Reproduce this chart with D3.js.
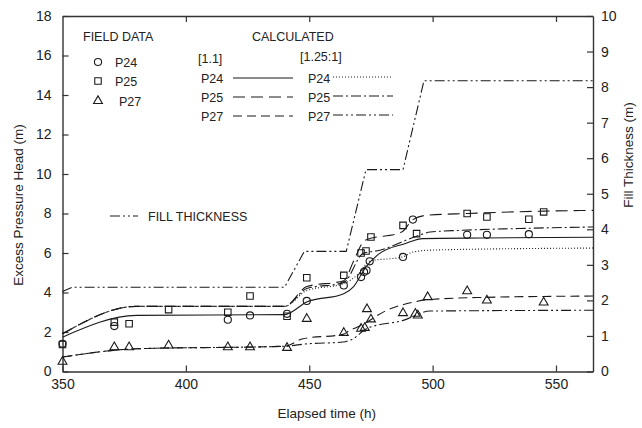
<!doctype html>
<html lang="en">
<head>
  <meta charset="utf-8">
  <title>Excess pressure head and fill thickness</title>
  <script src="https://cdn.jsdelivr.net/npm/d3@7/dist/d3.min.js"></script>
  <style>
    body { margin: 0; background: #fff; }
    svg text { font-family: "Liberation Sans", Arial, sans-serif; fill: #222; }
  </style>
</head>
<body>
<script>
  // field data (elapsed time h, head m)
  const p24Field = [[350,1.40],[371,2.30],[417,2.62],[426,2.84],[441,2.92],[449,3.57],[464,4.36],
    [471,4.78],[472.2,5.04],[473.2,5.12],[474.5,5.58],[488,5.80],[492,7.69],[514,6.92],[522,6.92],[539,6.95]]
  const p25Field = [[350,1.37],[371,2.50],[377,2.42],[393,3.13],[417,3.00],[426,3.82],[441,2.80],[449,4.75],
    [464,4.87],[471,6.00],[473,6.10],[475,6.81],[488,7.40],[493.5,6.98],[514,8.00],[522,7.82],[539,7.71],[545,8.08]]
  const p27Field = [[350,0.50],[371,1.23],[377,1.23],[393,1.32],[417,1.23],[426,1.23],[441,1.20],[449,2.67],
    [464,1.96],[471,2.17],[472.5,2.21],[473.4,3.16],[475,2.64],[488,2.96],[493,2.93],[494,2.84],[498,3.77],
    [514,4.07],[522,3.60],[545,3.50]]

  // calculated curves, [1.1] and [1.25:1]
  const p24Calc11 = [[350,1.74],[380,2.84],[440,2.88],[449,3.52],[464,3.94],[468,4.3],[473,5.3],[478,5.93],
    [489,6.48],[496,6.73],[520,6.76],[565,6.80]]
  const p25Calc11 = [[350,1.91],[380,3.30],[440,3.30],[449,4.3],[464,4.6],[468,5.6],[472.5,6.64],[487.5,7.06],
    [492,7.69],[497.5,7.91],[514,8.0],[545,8.12],[565,8.16]]
  const p27Calc11 = [[350,0.73],[380,1.15],[440,1.28],[447.5,1.66],[463.7,1.88],[466.4,2.08],[470.5,2.3],
    [481.3,3.09],[492.1,3.51],[497.5,3.63],[520,3.75],[565,3.82]]
  const p24Calc125 = [[350,1.91],[380,3.30],[440,3.30],[449,4.1],[464,4.45],[470,4.95],[474.5,5.59],
    [487.8,5.80],[492,6.05],[500,6.15],[565,6.25]]
  const p25Calc125 = [[350,1.91],[380,3.30],[440,3.30],[449,4.2],[464,4.5],[471.8,5.97],[478.6,6.14],
    [493.5,6.85],[499,7.06],[512,7.15],[535,7.24],[565,7.32]]
  const p27Calc125 = [[350,0.73],[380,1.15],[440,1.28],[448.9,1.40],[463.7,1.49],[467.8,1.66],[473.2,2.17],
    [488.1,2.59],[498.9,3.06],[565,3.10]]

  // fill thickness (m), right axis
  const fillThickness = [[350,2.25],[354,2.37],[440,2.37],[448,3.38],[465,3.38],[473,5.68],[488,5.68],
    [496.5,8.18],[565,8.18]]

  const xTicks = [350, 400, 450, 500, 550]
  const headTicks = [0, 2, 4, 6, 8, 10, 12, 14, 16, 18]
  const fillTicks = [0, 1, 2, 3, 4, 5, 6, 7, 8, 9, 10]

  const W = 642, H = 428
  const box = { left: 62.5, right: 593, top: 16, bottom: 371.5 }

  const svg = d3.select("body").append("svg")
    .attr("width", W).attr("height", H)

  const x = d3.scaleLinear().domain([350, 565]).range([box.left, box.right])
  const yHead = d3.scaleLinear().domain([0, 18]).range([box.bottom, box.top])
  const yFill = d3.scaleLinear().domain([0, 10]).range([box.bottom, box.top])

  // axes, ticks point inward
  const axisColor = "#333"
  function styleAxis(g) {
    g.selectAll("path").attr("stroke", axisColor).attr("stroke-width", 1.4)
    g.selectAll("line").attr("stroke", axisColor).attr("stroke-width", 1.2)
    g.selectAll("text").attr("font-size", 14).attr("fill", "#222")
      .attr("font-family", '"Liberation Sans", Arial, sans-serif')
  }

  svg.append("g").attr("transform", `translate(0,${box.bottom})`)
    .call(d3.axisBottom(x).tickValues(xTicks).tickSize(-6).tickSizeOuter(0).tickPadding(8))
    .call(styleAxis)
  svg.append("g").attr("transform", `translate(0,${box.top})`)
    .call(d3.axisTop(x).tickValues(xTicks.slice(1)).tickSize(-6).tickSizeOuter(0).tickFormat(""))
    .call(styleAxis)
  svg.append("g").attr("transform", `translate(${box.left},0)`)
    .call(d3.axisLeft(yHead).tickValues(headTicks).tickSize(-6).tickSizeOuter(0).tickPadding(11))
    .call(styleAxis)
  svg.append("g").attr("transform", `translate(${box.right},0)`)
    .call(d3.axisRight(yFill).tickValues(fillTicks).tickSize(-6).tickSizeOuter(0).tickPadding(8))
    .call(styleAxis)

  // axis titles
  svg.append("text").attr("x", (box.left + box.right) / 2 - 1).attr("y", 418)
    .attr("text-anchor", "middle").attr("font-size", 13.5).text("Elapsed time (h)")
  svg.append("text").attr("transform", "translate(23,205) rotate(-90)")
    .attr("text-anchor", "middle").attr("font-size", 13.5).text("Excess Pressure Head (m)")
  svg.append("text").attr("transform", "translate(633,155) rotate(-90)")
    .attr("text-anchor", "middle").attr("font-size", 13.5).text("Fill Thickness (m)")

  const styles = {
    solid: null,
    longDash: "12,6",
    dash: "9,5",
    dotted: "1,2",
    dashDot: "10,3,2,3",
    dashDotDot: "10,3,2,3,2,3"
  }

  const curveLine = d3.line().x(d => x(d[0])).y(d => yHead(d[1])).curve(d3.curveMonotoneX)
  const plot = svg.append("g")

  const calcSeries = [
    { data: p24Calc11, dash: styles.solid },
    { data: p25Calc11, dash: styles.longDash },
    { data: p27Calc11, dash: styles.dash },
    { data: p24Calc125, dash: styles.dotted },
    { data: p25Calc125, dash: styles.dashDot },
    { data: p27Calc125, dash: styles.dashDotDot }
  ]
  plot.selectAll("path.calc").data(calcSeries).join("path")
    .attr("class", "calc")
    .attr("d", d => curveLine(d.data))
    .attr("fill", "none").attr("stroke", "#1a1a1a").attr("stroke-width", 1.1)
    .attr("stroke-dasharray", d => d.dash)

  const fillLine = d3.line().x(d => x(d[0])).y(d => yFill(d[1]))
  plot.append("path").attr("d", fillLine(fillThickness))
    .attr("fill", "none").attr("stroke", "#1a1a1a").attr("stroke-width", 1.1)
    .attr("stroke-dasharray", styles.dashDotDot)

  // markers
  const sym = {
    circle: d3.symbol().type(d3.symbolCircle).size(40),
    square: d3.symbol().type(d3.symbolSquare).size(42),
    triangle: d3.symbol().type(d3.symbolTriangle).size(34)
  }
  function markers(data, shape) {
    plot.append("g").selectAll("path").data(data).join("path")
      .attr("transform", d => `translate(${x(d[0])},${yHead(d[1])})`)
      .attr("d", sym[shape]())
      .attr("fill", "none").attr("stroke", "#1a1a1a").attr("stroke-width", 1.1)
  }
  markers(p24Field, "circle")
  markers(p25Field, "square")
  markers(p27Field, "triangle")

  // legend
  const lg = svg.append("g").attr("font-size", 12.5)
  lg.append("text").attr("x", 83).attr("y", 41).text("FIELD DATA")
  lg.append("text").attr("x", 252).attr("y", 41).text("CALCULATED")
  const fieldRows = [["circle", "P24", 62], ["square", "P25", 81], ["triangle", "P27", 101]]
  fieldRows.forEach(([shape, label, yy], i) => {
    lg.append("path").attr("transform", `translate(98,${yy})`).attr("d", sym[shape]())
      .attr("fill", "none").attr("stroke", "#1a1a1a").attr("stroke-width", 1.1)
    lg.append("text").attr("x", i === 2 ? 119 : 115).attr("y", yy + 4.5).text(label)
  })
  lg.append("text").attr("x", 198).attr("y", 63).text("[1.1]")
  lg.append("text").attr("x", 300).attr("y", 61).text("[1.25:1]")
  const calcRows = [
    ["P24", 78, styles.solid, styles.dotted],
    ["P25", 97, styles.longDash, styles.dashDot],
    ["P27", 116, styles.dash, styles.dashDotDot]
  ]
  calcRows.forEach(([label, yy, d1, d2]) => {
    lg.append("text").attr("x", 201).attr("y", yy + 4.5).text(label)
    lg.append("line").attr("x1", 233).attr("x2", 293).attr("y1", yy).attr("y2", yy)
      .attr("stroke", "#1a1a1a").attr("stroke-width", 1.1).attr("stroke-dasharray", d1)
    lg.append("text").attr("x", 308).attr("y", yy + 4.5).text(label)
    lg.append("line").attr("x1", 333).attr("x2", 393).attr("y1", yy - 1).attr("y2", yy - 1)
      .attr("stroke", "#1a1a1a").attr("stroke-width", 1.1).attr("stroke-dasharray", d2)
  })
  lg.append("line").attr("x1", 110).attr("x2", 138).attr("y1", 216).attr("y2", 216)
    .attr("stroke", "#1a1a1a").attr("stroke-width", 1.1).attr("stroke-dasharray", styles.dashDotDot)
  lg.append("text").attr("x", 148).attr("y", 220.5).text("FILL THICKNESS")
</script>
</body>
</html>
